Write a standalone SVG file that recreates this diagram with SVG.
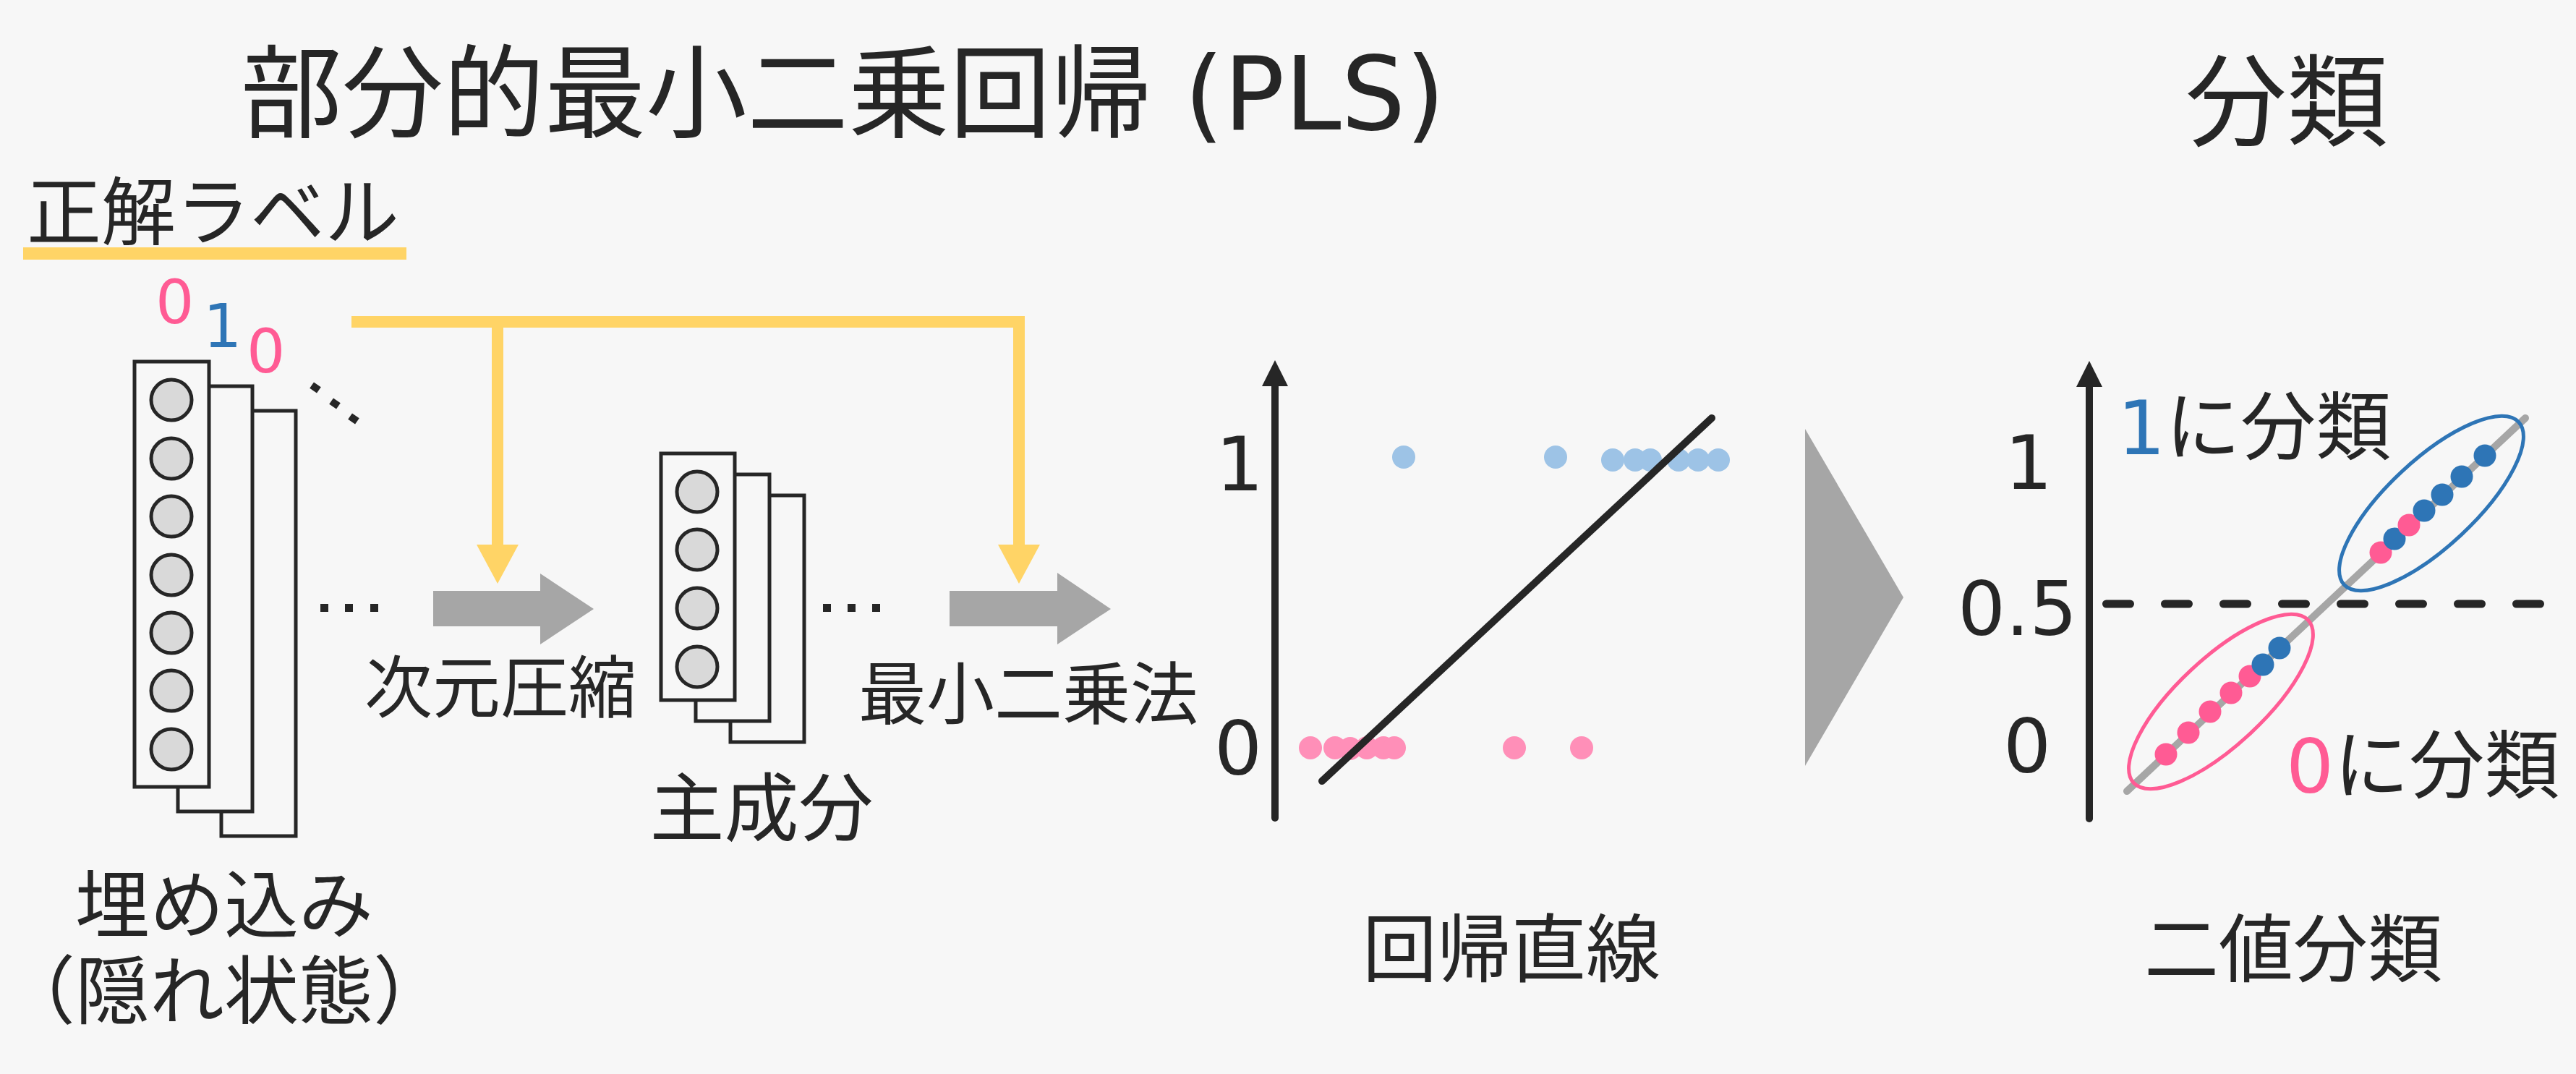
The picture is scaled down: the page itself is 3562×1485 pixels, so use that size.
<svg xmlns="http://www.w3.org/2000/svg" width="3562" height="1485" viewBox="0 0 3562 1485">
<defs>
<style>
.t{font-family:"DejaVu Sans","Noto Sans CJK JP",sans-serif;fill:#262626}
.box{fill:#F7F7F7;stroke:#262626;stroke-width:5}
.unit{fill:#D9D9D9;stroke:#262626;stroke-width:5}
.dot{fill:#262626}
.pk{fill:#FF5B94}
.bl{fill:#2E75B6}
.lpk{fill:#FF8FB8}
.lbl{fill:#9DC3E6}
.yl{fill:none;stroke:#FFD466;stroke-width:16;stroke-linejoin:miter}
.gray{fill:#A6A6A6}
.axis{stroke:#262626;stroke-width:10;stroke-linecap:round;fill:none}
</style>
<marker id="yh" markerUnits="userSpaceOnUse" markerWidth="54" markerHeight="58" viewBox="0 0 54 58" refX="0" refY="29" orient="auto"><path d="M0,0 L54,29 L0,58 z" fill="#FFD466"/></marker>
<marker id="ah" markerUnits="userSpaceOnUse" markerWidth="36" markerHeight="36" viewBox="0 0 36 36" refX="0" refY="18" orient="auto"><path d="M0,0 L36,18 L0,36 z" fill="#262626"/></marker>
</defs>
<rect width="3562" height="1485" fill="#F7F7F7"/>

<g id="title">
<text class="t" x="333" y="179" font-size="140">部分的最小二乗回帰 (PLS)</text>
</g>
<g id="title-classify">
<text class="t" x="3022" y="191" font-size="140">分類</text>
</g>

<g id="label-truth">
<text class="t" x="37" y="331" font-size="103">正解ラベル</text>
<rect x="32" y="342" width="530" height="17" fill="#FFD466"/>
<text class="t pk" x="215" y="447" font-size="84">0</text>
<text class="t bl" x="281" y="480" font-size="84">1</text>
<text class="t pk" x="341" y="515" font-size="84">0</text>
</g>

<g id="embedding">
<rect class="box" x="306" y="568" width="103" height="588"/>
<rect class="box" x="246" y="534" width="103" height="588"/>
<rect class="box" x="186" y="500" width="103" height="588"/>
<circle class="unit" cx="237" cy="553" r="28"/>
<circle class="unit" cx="237" cy="634" r="28"/>
<circle class="unit" cx="237" cy="714" r="28"/>
<circle class="unit" cx="237" cy="795" r="28"/>
<circle class="unit" cx="237" cy="875" r="28"/>
<circle class="unit" cx="237" cy="955" r="28"/>
<circle class="unit" cx="237" cy="1036" r="28"/>
<rect class="dot" x="-6" y="-5" width="12" height="10" transform="translate(436,536) rotate(35)"/>
<rect class="dot" x="-6" y="-5" width="12" height="10" transform="translate(463,558) rotate(35)"/>
<rect class="dot" x="-6" y="-5" width="12" height="10" transform="translate(489,579) rotate(35)"/>
<rect class="dot" x="443" y="835" width="11" height="11"/>
<rect class="dot" x="477" y="835" width="11" height="11"/>
<rect class="dot" x="512" y="835" width="11" height="11"/>
<text class="t" x="310" y="1289" font-size="103" text-anchor="middle">埋め込み</text>
<text class="t" x="310" y="1408" font-size="103" text-anchor="middle">（隠れ状態）</text>
</g>

<g id="pca">
<rect class="box" x="1010" y="685" width="102" height="341"/>
<rect class="box" x="962" y="656" width="102" height="341"/>
<rect class="box" x="914" y="627" width="102" height="341"/>
<circle class="unit" cx="964" cy="680" r="28"/>
<circle class="unit" cx="964" cy="760" r="28"/>
<circle class="unit" cx="964" cy="841" r="28"/>
<circle class="unit" cx="964" cy="922" r="28"/>
<rect class="dot" x="1138" y="835" width="11" height="11"/>
<rect class="dot" x="1172" y="835" width="11" height="11"/>
<rect class="dot" x="1206" y="835" width="11" height="11"/>
<text class="t" x="1053" y="1155" font-size="103" text-anchor="middle">主成分</text>
</g>

<g id="connectors">
<path class="yl" d="M486,445 H1409 V753" marker-end="url(#yh)"/>
<path class="yl" d="M688,445 V753" marker-end="url(#yh)"/>
<polygon class="gray" points="599,817 747,817 747,793 821,842 747,891 747,866 599,866"/>
<polygon class="gray" points="1313,817 1462,817 1462,792 1536,842 1462,891 1462,866 1313,866"/>
<polygon class="gray" points="2496,593 2632,826 2496,1059"/>
<text class="t" x="692" y="985" font-size="94" text-anchor="middle">次元圧縮</text>
<text class="t" x="1422" y="994" font-size="94" text-anchor="middle">最小二乗法</text>
</g>

<g id="regression">
<path class="axis" d="M1763,1131 V534" marker-end="url(#ah)"/>
<text class="t" x="1681" y="678" font-size="104">1</text>
<text class="t" x="1679" y="1071" font-size="104">0</text>
<g class="lbl">
<circle cx="1941" cy="632" r="16"/>
<circle cx="2151" cy="632" r="16"/>
<circle cx="2230" cy="636" r="16"/>
<circle cx="2261" cy="636" r="16"/>
<circle cx="2282" cy="636" r="16"/>
<circle cx="2321" cy="636" r="16"/>
<circle cx="2348" cy="636" r="16"/>
<circle cx="2376" cy="636" r="16"/>
</g>
<g class="lpk">
<circle cx="1812" cy="1034" r="16"/>
<circle cx="1846" cy="1034" r="16"/>
<circle cx="1867" cy="1035" r="16"/>
<circle cx="1890" cy="1034" r="16"/>
<circle cx="1913" cy="1034" r="16"/>
<circle cx="1928" cy="1034" r="16"/>
<circle cx="2094" cy="1034" r="16"/>
<circle cx="2187" cy="1034" r="16"/>
</g>
<line x1="1828" y1="1080" x2="2367" y2="578" stroke="#262626" stroke-width="10" stroke-linecap="round"/>
<text class="t" x="2090" y="1350" font-size="103" text-anchor="middle">回帰直線</text>
</g>

<g id="classification">
<path class="axis" d="M2889,1132 V535" marker-end="url(#ah)"/>
<text class="t" x="2772" y="676" font-size="104">1</text>
<text class="t" x="2707" y="878" font-size="104">0.5</text>
<text class="t" x="2770" y="1068" font-size="104">0</text>
<path d="M2912.5,835 H3516" stroke="#262626" stroke-width="11" stroke-linecap="round" stroke-dasharray="33 48" fill="none"/>
<line x1="2941" y1="1094" x2="3492" y2="578" stroke="#A6A6A6" stroke-width="10" stroke-linecap="round"/>
<ellipse cx="3362" cy="696" rx="165" ry="60" transform="rotate(-43 3362 696)" fill="none" stroke="#2E75B6" stroke-width="5"/>
<ellipse cx="3071" cy="970" rx="165" ry="60" transform="rotate(-43 3071 970)" fill="none" stroke="#FF5B94" stroke-width="5"/>
<circle class="pk" cx="3292" cy="764" r="15.5"/>
<circle class="bl" cx="3311" cy="745" r="15.5"/>
<circle class="pk" cx="3331" cy="726" r="15.5"/>
<circle class="bl" cx="3352" cy="706" r="15.5"/>
<circle class="bl" cx="3377" cy="684" r="15.5"/>
<circle class="bl" cx="3404" cy="659" r="15.5"/>
<circle class="bl" cx="3436" cy="630" r="15.5"/>
<circle class="pk" cx="2995" cy="1043" r="15.5"/>
<circle class="pk" cx="3026" cy="1013" r="15.5"/>
<circle class="pk" cx="3056" cy="984" r="15.5"/>
<circle class="pk" cx="3085" cy="958" r="15.5"/>
<circle class="pk" cx="3111" cy="935" r="15.5"/>
<circle class="bl" cx="3129" cy="919" r="15.5"/>
<circle class="bl" cx="3152" cy="896" r="15.5"/>
<text class="t" x="2928" y="628" font-size="104"><tspan class="bl">1</tspan>に分類</text>
<text class="t" x="3161" y="1096" font-size="104"><tspan class="pk">0</tspan>に分類</text>
<text class="t" x="3171" y="1350" font-size="103" text-anchor="middle">二値分類</text>
</g>
</svg>
